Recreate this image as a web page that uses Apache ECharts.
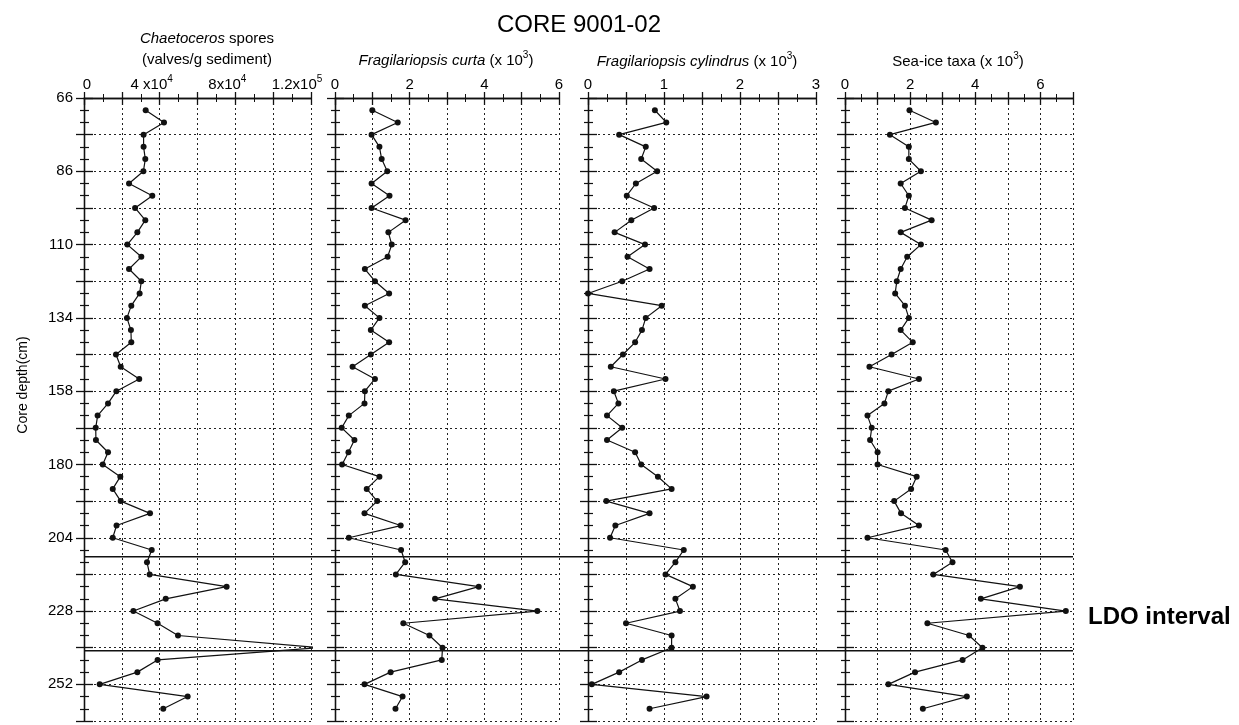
<!DOCTYPE html>
<html>
<head>
<meta charset="utf-8">
<script src="https://cdn.jsdelivr.net/npm/echarts@6/dist/echarts.min.js"></script>
<style>
html,body{margin:0;padding:0;background:#fff;}
#chart{width:1239px;height:725px;}
</style>
</head>
<body>
<div id="chart"></div>
<script>
// ---------------- DATA ----------------
// Core depth tick labels (cm), one label every 6 samples
const depthLabels = ['66', '86', '110', '134', '158', '180', '204', '228', '252'];
// Samples are evenly spaced down the core (sample 1 .. 50)
// Chaetoceros spores (valves/g sediment)
const chaetoceros = [32600, 42300, 31500, 31500, 32400, 31400, 23800, 36100, 27000, 32400,
  28200, 22900, 30300, 23800, 30300, 29400, 25000, 22700, 24800, 25000,
  16900, 19400, 29200, 17100, 12700, 7200, 6200, 6300, 12700, 9900,
  19200, 15200, 19400, 34900, 17200, 15200, 35800, 33300, 34700, 75400,
  43200, 26100, 38900, 49700, 124000, 38900, 28200, 8300, 54800, 41900];
// Fragilariopsis curta (x 10^3)
const curta = [1.00, 1.68, 0.98, 1.19, 1.25, 1.40, 0.98, 1.46, 0.98, 1.89,
  1.43, 1.52, 1.41, 0.80, 1.07, 1.45, 0.80, 1.19, 0.96, 1.45,
  0.96, 0.47, 1.07, 0.80, 0.79, 0.37, 0.18, 0.52, 0.36, 0.19,
  1.19, 0.85, 1.13, 0.79, 1.76, 0.37, 1.77, 1.88, 1.63, 3.85,
  2.68, 5.42, 1.83, 2.53, 2.88, 2.86, 1.49, 0.79, 1.81, 1.62];
// Fragilariopsis cylindrus (x 10^3)
const cylindrus = [0.88, 1.03, 0.41, 0.76, 0.70, 0.91, 0.63, 0.51, 0.87, 0.57,
  0.35, 0.75, 0.52, 0.81, 0.45, 0.00, 0.97, 0.76, 0.71, 0.62,
  0.46, 0.30, 1.02, 0.34, 0.40, 0.25, 0.45, 0.25, 0.62, 0.70,
  0.92, 1.10, 0.24, 0.81, 0.36, 0.29, 1.26, 1.15, 1.02, 1.38,
  1.15, 1.21, 0.50, 1.10, 1.10, 0.71, 0.41, 0.05, 1.56, 0.81];
// Sea-ice taxa (x 10^3)
const seaIce = [1.98, 2.79, 1.38, 1.96, 1.96, 2.33, 1.71, 1.96, 1.84, 2.66,
  1.71, 2.33, 1.91, 1.71, 1.59, 1.54, 1.84, 1.96, 1.71, 2.08,
  1.43, 0.75, 2.27, 1.33, 1.21, 0.69, 0.82, 0.77, 1.00, 1.00,
  2.20, 2.03, 1.51, 1.72, 2.27, 0.69, 3.09, 3.30, 2.71, 5.37,
  4.17, 6.78, 2.53, 3.81, 4.22, 3.61, 2.15, 1.33, 3.74, 2.39];
// x tick labels
const chaetoTickValues = [0, 40000, 80000, 120000];
const chaetoTickText = ['{z|0}', '{m|4 x10}{sup|4}{p1| }', '{m|8x10}{sup|4}{p1| }', '{m|1.2x10}{sup|5}{p2| }'];
const curtaTicks = [0, 2, 4, 6];
const cylindrusTicks = [0, 1, 2, 3];
const seaIceTicks = [0, 2, 4, 6];
// LDO interval boundaries (sample position)
const ldoBounds = [37.55, 45.25];

// ---------------- LAYOUT ----------------
const FONT = 'Liberation Sans, Arial, Helvetica, sans-serif';
const TOP = 98, H = 623;
const lefts = [84, 335, 588, 845];
const widths = [227, 224, 228, 228];
const YMAX = 51;

const panels = [
  {data: chaetoceros, max: 120000, interval: 20000,
   fmt: v => { const k = chaetoTickValues.indexOf(v); return k < 0 ? '' : chaetoTickText[k]; }},
  {data: curta, max: 6, interval: 1, fmt: v => curtaTicks.indexOf(v) < 0 ? '' : '{m|' + v + '}'},
  {data: cylindrus, max: 3, interval: 0.5, fmt: v => cylindrusTicks.indexOf(v) < 0 ? '' : '{m|' + v + '}'},
  {data: seaIce, max: 7, interval: 1, fmt: v => seaIceTicks.indexOf(v) < 0 ? '' : '{m|' + v + '}'}
];

const black = '#111';
const dotted = {color: '#222', width: 1, type: [2, 3]};
const lineStyleAxis = {color: black, width: 1.3};

const grid = [], xAxis = [], yAxis = [], series = [];

panels.forEach((p, i) => {
  grid.push({left: lefts[i], top: TOP, width: widths[i], height: H});
  // top axis with labels
  xAxis.push({
    type: 'value', gridIndex: i, position: 'top', min: 0, max: p.max, interval: p.interval,
    axisLine: {show: true, lineStyle: lineStyleAxis},
    axisTick: {show: true, inside: true, length: 7, lineStyle: lineStyleAxis},
    minorTick: {show: true, splitNumber: 2, length: 4, lineStyle: {color: black, width: 1}},
    splitLine: {show: true, lineStyle: dotted},
    axisLabel: {
      show: true, margin: 2, fontFamily: FONT, fontSize: 15, color: '#000', lineHeight: 22,
      formatter: p.fmt,
      rich: {
        m: {fontFamily: FONT, fontSize: 15, color: '#000', lineHeight: 22},
        z: {fontFamily: FONT, fontSize: 15, color: '#000', lineHeight: 22, padding: [0, 0, 0, 6]},
        sup: {fontFamily: FONT, fontSize: 10, verticalAlign: 'top', color: '#000', lineHeight: 22},
        p1: {fontSize: 10, width: 16},
        p2: {fontSize: 10, width: 28}
      }
    }
  });
  // bottom axis (frame and ticks only)
  xAxis.push({
    type: 'value', gridIndex: i, position: 'bottom', min: 0, max: p.max, interval: p.interval,
    axisLine: {show: true, lineStyle: lineStyleAxis},
    axisTick: {show: true, inside: true, length: 6, lineStyle: lineStyleAxis},
    minorTick: {show: true, splitNumber: 2, length: 4, lineStyle: {color: black, width: 1}},
    splitLine: {show: false}, axisLabel: {show: false}
  });
  // left axis
  yAxis.push({
    type: 'value', gridIndex: i, position: 'left', inverse: true, min: 0, max: YMAX, interval: 3,
    axisLine: {show: true, lineStyle: lineStyleAxis},
    axisTick: {show: true, inside: true, length: 9, lineStyle: lineStyleAxis},
    minorTick: {show: true, splitNumber: 3, length: 5, lineStyle: {color: black, width: 1.2}},
    splitLine: {show: true, lineStyle: dotted},
    axisLabel: {
      show: i === 0, margin: 11, fontFamily: FONT, fontSize: 15, color: '#000',
      formatter: v => (v % 6 === 0 && v / 6 < depthLabels.length) ? depthLabels[v / 6] : ''
    }
  });
  // right axis
  yAxis.push({
    type: 'value', gridIndex: i, position: 'right', inverse: true, min: 0, max: YMAX, interval: 3,
    axisLine: {show: true, lineStyle: lineStyleAxis},
    axisTick: {show: true, inside: true, length: 8, lineStyle: lineStyleAxis},
    minorTick: {show: true, splitNumber: 3, length: 4, lineStyle: {color: black, width: 1.2}},
    splitLine: {show: false}, axisLabel: {show: false}
  });
  series.push({
    type: 'line', xAxisIndex: 2 * i, yAxisIndex: 2 * i,
    data: p.data.map((v, k) => [v, k + 1]),
    symbol: 'circle', symbolSize: 6, showSymbol: true,
    itemStyle: {color: black}, lineStyle: {color: black, width: 1.2},
    clip: true, z: 5
  });
});

// overlay grid spanning all panels for the LDO interval lines
grid.push({left: lefts[0], top: TOP, width: lefts[3] + widths[3] - lefts[0], height: H});
xAxis.push({type: 'value', gridIndex: 4, min: 0, max: 1, show: false});
yAxis.push({type: 'value', gridIndex: 4, inverse: true, min: 0, max: YMAX, show: false});
ldoBounds.forEach(b => {
  series.push({
    type: 'line', xAxisIndex: 8, yAxisIndex: 8, data: [[0, b], [1, b]],
    symbol: 'none', lineStyle: {color: black, width: 1.5}, z: 6, silent: true
  });
});

const supRich = {
  n: {fontFamily: FONT, fontSize: 15, fill: '#000', lineHeight: 22},
  it: {fontFamily: FONT, fontSize: 15, fontStyle: 'italic', fill: '#000', lineHeight: 22},
  sup: {fontFamily: FONT, fontSize: 10, fill: '#000', verticalAlign: 'top', lineHeight: 22}
};
function txt(x, y, text) {
  return {
    type: 'text', x: x, y: y,
    style: {text: text, rich: supRich, fontFamily: FONT, fontSize: 15, fill: '#000',
            align: 'center', verticalAlign: 'middle'}
  };
}

const graphic = [
  {type: 'text', x: 579, y: 25,
   style: {text: 'CORE 9001-02', fontFamily: FONT, fontSize: 24, fill: '#000', align: 'center', verticalAlign: 'middle'}},
  txt(207, 39, '{it|Chaetoceros}{n| spores}'),
  txt(207, 60, '{n|(valves/g sediment)}'),
  txt(446, 61, '{it|Fragilariopsis curta}{n| (x 10}{sup|3}{n|)}'),
  txt(697, 62, '{it|Fragilariopsis cylindrus}{n| (x 10}{sup|3}{n|)}'),
  txt(958, 62, '{n|Sea-ice taxa (x 10}{sup|3}{n|)}'),
  {type: 'text', x: 23, y: 385, rotation: Math.PI / 2,
   style: {text: 'Core depth(cm)', fontFamily: FONT, fontSize: 14, fill: '#000', align: 'center', verticalAlign: 'middle'}},
  {type: 'text', x: 1088, y: 617,
   style: {text: 'LDO interval', fontFamily: FONT, fontSize: 24, fontWeight: 'bold', fill: '#000', align: 'left', verticalAlign: 'middle'}}
];

const chart = echarts.init(document.getElementById('chart'), null, {renderer: 'canvas'});
chart.setOption({
  animation: false,
  backgroundColor: '#fff',
  grid: grid, xAxis: xAxis, yAxis: yAxis, series: series, graphic: graphic
});
</script>
</body>
</html>
